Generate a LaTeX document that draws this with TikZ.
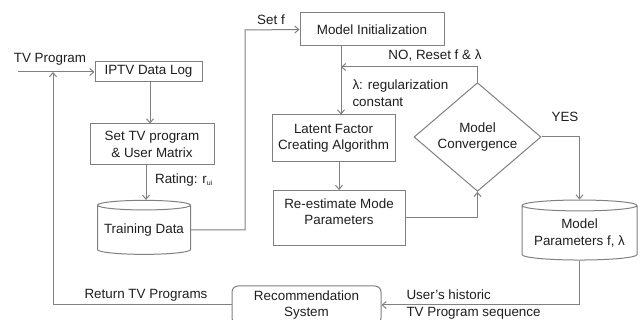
\documentclass[tikz,border=0pt]{standalone}
\usepackage{fontspec}
\setmainfont{Liberation Sans}
\usetikzlibrary{arrows.meta, shapes.geometric}

\definecolor{linegray}{HTML}{808080}
\definecolor{textgray}{HTML}{1E1E1E}

\begin{document}
\begin{tikzpicture}[
        x=1pt, y=-1pt,
        font=\fontsize{13.4}{16.5}\selectfont,
        every node/.style={text=textgray},
        box/.style={draw=linegray, line width=1pt, rectangle, align=center, inner sep=0pt},
        roundbox/.style={box, rounded corners=6pt},
        dbase/.style={draw=linegray, line width=1pt, cylinder, shape border rotate=90, aspect=0.12, align=center, inner sep=0pt},
        decision/.style={draw=linegray, line width=1pt, diamond, align=center, inner sep=0pt},
        flow/.style={draw=linegray, line width=1pt},
        >={Straight Barb[length=4pt, width=7pt]}]

        \useasboundingbox (0,0) rectangle (640,320);

        % --- LEFT COLUMN: data preparation ---
        \node (tvin) at (50,59) {TV Program};
        \node (log) at (148.5,71.5) [box, minimum width=107pt, minimum height=20pt] {IPTV Data Log};
        \node (matrix) at (152,144.5) [box, minimum width=124pt, minimum height=41pt] {Set TV program\\\& User Matrix};
        \node (train) at (144,230) [dbase, minimum width=93pt, minimum height=54pt] {Training Data};
        \node (rating) at (184,180) {Rating: r\textsubscript{\scriptsize ui}};

        \coordinate (in) at (18,72);
        \coordinate (ret) at (53,72);
        \coordinate (setf) at (245,30);
        \coordinate (logx) at (150,0);
        \coordinate (trainx) at (146,0);

        \draw[flow, ->] (in) -- (log.west |- in);
        \draw[flow, ->] (log.south -| logx) -- (matrix.north -| logx);
        \draw[flow, ->] (matrix.south -| trainx) -- (train.top -| trainx);

        % --- MIDDLE COLUMN: model training ---
        \node (setflbl) at (271,20) {Set f};
        \node (init) at (372,29.5) [box, minimum width=144pt, minimum height=33pt] {Model Initialization};
        \node (latent) at (333.5,138.5) [box, minimum width=123pt, minimum height=47pt] {Latent Factor\\Creating Algorithm};
        \node (reest) at (339,218) [box, minimum width=132pt, minimum height=55pt, text depth=13pt] {Re-estimate Mode\\Parameters};
        \node (lambda) at (349,93) [anchor=west, align=left] {λ: regularization\\constant};

        \coordinate (nojoin) at (341,67);

        \draw[flow, ->] (train.east) -| (setf) -- (init.west);
        \draw[flow, ->] (init.south -| nojoin) -- (latent.north -| nojoin);
        \draw[flow, ->] (latent.south -| reest) -- (reest.north);

        % --- RIGHT COLUMN: convergence test ---
        \node (conv) at (477.5,137) [decision, minimum width=127pt, minimum height=86pt] {Model\\Convergence};
        \node (nolbl) at (435,56) {NO, Reset f \& λ};
        \node (yeslbl) at (565,117) {YES};
        \node (params) at (579.5,233) [dbase, minimum width=115pt, minimum height=60pt] {Model\\Parameters f, λ};

        \draw[flow, ->] (reest.east) -| (conv.south);
        \draw[flow, ->] (conv.north) |- (nojoin);
        \draw[flow, ->] (conv.east) -| (params.top);

        % --- BOTTOM ROW: recommendation ---
        \node (rec) at (306.5,305) [roundbox, minimum width=149pt, minimum height=38pt] {Recommendation\\System};
        \node (histlbl) at (403,304.5) [anchor=west, align=left] {User’s historic\\TV Program sequence};
        \node (retlbl) at (146,295) {Return TV Programs};

        \draw[flow, ->] (params.bottom) |- (rec.east);
        \draw[flow, ->] (rec.west) -| (ret);

    \end{tikzpicture}
\end{document}
